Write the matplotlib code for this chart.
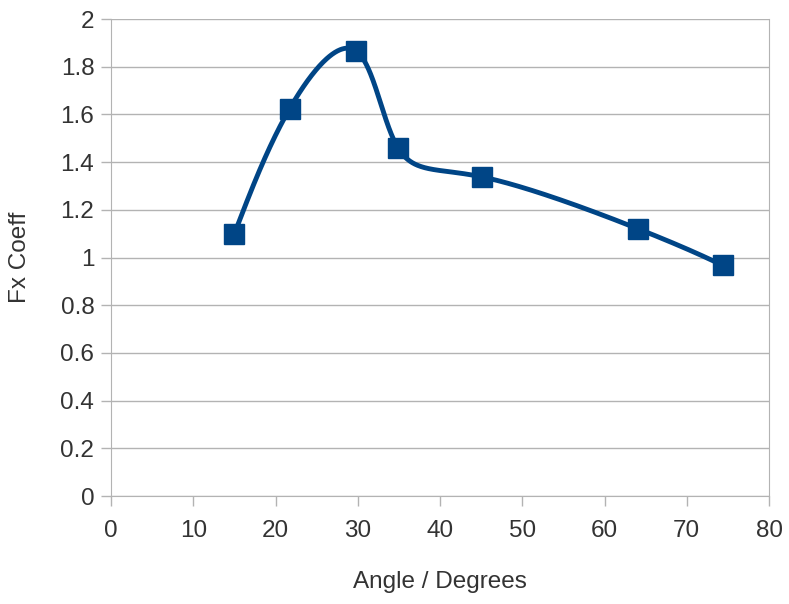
import numpy as np
import matplotlib
matplotlib.use("Agg")
import matplotlib.pyplot as plt

angle = [15, 21.7, 29.8, 34.9, 45.1, 64.1, 74.4]
fx_coeff = [1.10, 1.623, 1.866, 1.459, 1.338, 1.12, 0.967]
x_ticks = [0, 10, 20, 30, 40, 50, 60, 70, 80]
y_ticks = [0, 0.2, 0.4, 0.6, 0.8, 1, 1.2, 1.4, 1.6, 1.8, 2]
y_tick_labels = ["0", "0.2", "0.4", "0.6", "0.8", "1", "1.2", "1.4", "1.6", "1.8", "2"]


def natural_coeffs(t, v):
    k = len(t); h = np.diff(t)
    A = np.zeros((k, k)); b = np.zeros(k)
    A[0, 0] = A[-1, -1] = 1
    for i in range(1, k - 1):
        A[i, i - 1] = h[i - 1]; A[i, i] = 2 * (h[i - 1] + h[i]); A[i, i + 1] = h[i]
        b[i] = 6 * ((v[i + 1] - v[i]) / h[i] - (v[i] - v[i - 1]) / h[i - 1])
    return np.linalg.solve(A, b)


def eval_spline(t, v, M, ts):
    idx = np.clip(np.searchsorted(t, ts) - 1, 0, len(t) - 2)
    t0, t1 = t[idx], t[idx + 1]; h = t1 - t0
    return (M[idx] * (t1 - ts) ** 3 / (6 * h) + M[idx + 1] * (ts - t0) ** 3 / (6 * h)
            + (v[idx] / h - M[idx] * h / 6) * (t1 - ts)
            + (v[idx + 1] / h - M[idx + 1] * h / 6) * (ts - t0))


def smooth_line(ax, x, y, n=600):
    # parametric natural cubic spline (uniform parameter) in axes space
    pts = ax.transAxes.inverted().transform(ax.transData.transform(np.column_stack([x, y])))
    t = np.arange(len(x), dtype=float)
    ts = np.linspace(0, t[-1], n)
    px = eval_spline(t, pts[:, 0], natural_coeffs(t, pts[:, 0]), ts)
    py = eval_spline(t, pts[:, 1], natural_coeffs(t, pts[:, 1]), ts)
    out = ax.transAxes.transform(np.column_stack([px, py]))
    return ax.transData.inverted().transform(out).T


plt.rcParams["font.family"] = ["Liberation Sans", "DejaVu Sans"]
fig = plt.figure(figsize=(7.89, 6.04), dpi=100)
ax = fig.add_axes([0.1407, 0.1788, 0.834, 0.7897])
ax.set_xlim(0, 80); ax.set_ylim(0, 2)

blue = "#004586"
xs, ys = smooth_line(ax, angle, fx_coeff)
ax.plot(xs, ys, color=blue, lw=3.5, solid_capstyle="round", zorder=3)
ax.plot(angle, fx_coeff, ls="none", marker="s", ms=14, color=blue, zorder=4)

ax.set_xticks(x_ticks); ax.set_yticks(y_ticks)
ax.set_yticklabels(y_tick_labels)
ax.grid(axis="y", color="#b3b3b3", lw=1)
ax.set_axisbelow(True)
for s in ["left", "bottom", "right"]:
    ax.spines[s].set_color("#b3b3b3")
ax.spines["top"].set_visible(False)
ax.tick_params(colors="#b3b3b3", labelcolor="#333333", labelsize=17.5, length=7, width=1)
ax.tick_params(axis="x", pad=10.5)
ax.tick_params(axis="y", pad=5)
ax.set_xlabel("Angle / Degrees", fontsize=17.5, color="#333333", labelpad=21)
ax.set_ylabel("Fx Coeff", fontsize=17.5, color="#333333", labelpad=21.5)

fig.savefig("out.png", dpi=100)
